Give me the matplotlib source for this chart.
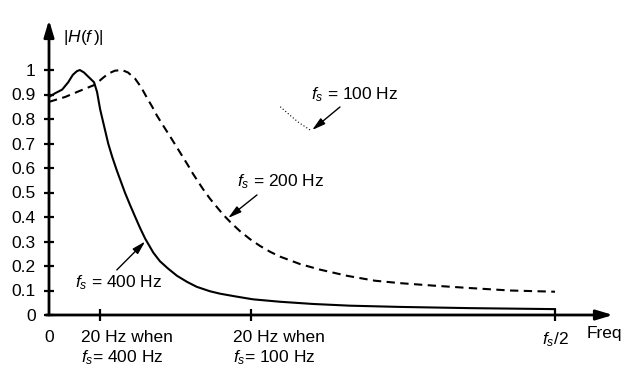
import matplotlib
matplotlib.use('Agg')
import matplotlib.pyplot as plt

plt.rcParams['font.family'] = ['Liberation Sans', 'DejaVu Sans']
plt.rcParams['mathtext.fontset'] = 'custom'
plt.rcParams['mathtext.rm'] = 'Liberation Sans'
plt.rcParams['mathtext.it'] = 'Liberation Sans:italic'
plt.rcParams['mathtext.bf'] = 'Liberation Sans:bold'

# ---------------- data (frequency normalised to fs/2) ----------------
freq_400 = [0, 0.012, 0.026, 0.038, 0.047, 0.055, 0.061, 0.069, 0.079, 0.089,
            0.095, 0.101, 0.109, 0.117, 0.125, 0.134, 0.142, 0.150, 0.160,
            0.170, 0.180, 0.190, 0.206, 0.219, 0.235, 0.253, 0.273, 0.292,
            0.318, 0.338, 0.368, 0.403, 0.457, 0.522, 0.595, 0.694, 0.832, 1.0]
mag_400 = [0.89, 0.905, 0.92, 0.95, 0.98, 0.995, 1.0, 0.99, 0.97, 0.95,
           0.91, 0.84, 0.77, 0.70, 0.645, 0.59, 0.545, 0.50, 0.45,
           0.402, 0.355, 0.312, 0.255, 0.22, 0.19, 0.16, 0.135, 0.115,
           0.097, 0.087, 0.076, 0.064, 0.054, 0.045, 0.038, 0.033, 0.028, 0.024]

freq_200 = [0, 0.032, 0.061, 0.091, 0.105, 0.117, 0.130, 0.144, 0.156, 0.170,
            0.182, 0.194, 0.204, 0.213, 0.225, 0.239, 0.251, 0.263, 0.275,
            0.285, 0.304, 0.318, 0.332, 0.344, 0.358, 0.377, 0.397, 0.417,
            0.437, 0.457, 0.496, 0.536, 0.589, 0.644, 0.694, 0.759, 0.832,
            0.911, 1.0]
mag_200 = [0.87, 0.89, 0.915, 0.94, 0.965, 0.985, 0.997, 1.0, 0.99, 0.965,
           0.93, 0.885, 0.85, 0.815, 0.775, 0.73, 0.69, 0.65, 0.61,
           0.575, 0.515, 0.475, 0.44, 0.41, 0.38, 0.343, 0.31, 0.282,
           0.258, 0.238, 0.208, 0.185, 0.16, 0.14, 0.13, 0.12, 0.11,
           0.10, 0.095]

freq_100 = [0.457, 0.476, 0.492, 0.516]
mag_100 = [0.85, 0.816, 0.788, 0.755]

y_ticks = [0, 0.1, 0.2, 0.3, 0.4, 0.5, 0.6, 0.7, 0.8, 0.9, 1.0]
y_tick_labels = ['0', '0.1', '0.2', '0.3', '0.4', '0.5', '0.6', '0.7', '0.8', '0.9', '1']
x_ticks = [0.1, 0.4, 1.0]
x_tick_labels = ['20 Hz when\n$f_s$= 400 Hz', '20 Hz when\n$f_s$= 100 Hz', '$f_s$/2']

FS = 12.5

# ---------------- figure ----------------
PX, PY = 506.0, 245.0   # pixels per data unit
fig = plt.figure(figsize=(6.27, 3.69), dpi=100)
ax = fig.add_axes([0, 0, 1, 1])
ax.set_xlim(-49 / PX, (627 - 49) / PX)
ax.set_ylim(-(369 - 315) / PY, 315 / PY)

for s in ax.spines.values():
    s.set_visible(False)
ax.spines['left'].set_position(('data', 0))
ax.spines['bottom'].set_position(('data', 0))

ax.set_yticks(y_ticks, y_tick_labels)
ax.set_xticks(x_ticks, [''] * len(x_ticks))
ax.tick_params(axis='y', direction='inout', length=7, width=1.6, pad=6,
               labelsize=FS, right=False)
ax.tick_params(axis='x', direction='inout', length=9, width=1.6, top=False)

# axes with arrows
arr = dict(arrowstyle='-|>,head_length=1.0,head_width=0.3', lw=2.0,
           color='black', mutation_scale=10, shrinkA=0, shrinkB=0)
ax.annotate('', xy=(0, (315 - 20) / PY), xytext=(0, 0), arrowprops=arr)
ax.annotate('', xy=((613 - 49) / PX, 0), xytext=(-3 / PX, 0), arrowprops=arr)

# curves
ax.plot(freq_400, mag_400, color='black', lw=1.5, solid_joinstyle='round')
ax.plot(freq_200, mag_200, color='black', lw=1.5, dashes=(4, 2.6))
ax.plot(freq_100, mag_100, color='black', lw=0.8, dashes=(1, 2))

# text labels
ax.text(0.067, 1.131, r'$|H(f\,)|$', fontsize=FS, ha='center', va='center')
ax.text(0, -0.09, '0', fontsize=FS, ha='center', va='center')
for xt, lab in zip(x_ticks, x_tick_labels):
    if xt < 1.0:
        ax.text(xt - 0.037, -0.062, lab, fontsize=FS, ha='left', va='top',
                linespacing=1.2)
    else:
        ax.text(xt, -0.062, lab, fontsize=FS, ha='center', va='top')
ax.text(1.063, -0.045, 'Freq', fontsize=FS, ha='left', va='top')

small = dict(arrowstyle='-|>,head_length=0.8,head_width=0.22', lw=1.0,
             color='black', mutation_scale=10, shrinkA=0, shrinkB=0)
ax.text(0.138, 0.131, r'$f_s$ = 400 Hz', fontsize=FS, ha='center', va='center')
ax.annotate('', xy=(0.19, 0.30), xytext=(0.134, 0.184), arrowprops=small)
ax.text(0.458, 0.543, r'$f_s$ = 200 Hz', fontsize=FS, ha='center', va='center')
ax.annotate('', xy=(0.354, 0.396), xytext=(0.411, 0.49), arrowprops=small)
ax.text(0.605, 0.898, r'$f_s$ = 100 Hz', fontsize=FS, ha='center', va='center')
ax.annotate('', xy=(0.52, 0.755), xytext=(0.575, 0.849), arrowprops=small)

fig.savefig('out.png', dpi=100)
